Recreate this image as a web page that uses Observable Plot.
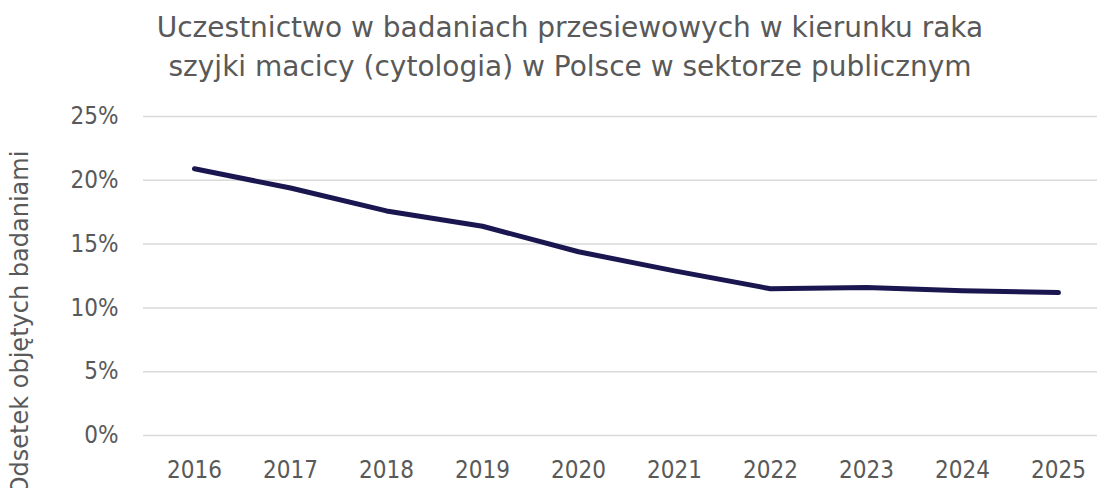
<!DOCTYPE html>
<html>
<head>
<meta charset="utf-8">
<script src="https://cdn.jsdelivr.net/npm/d3@7"></script>
<script src="https://cdn.jsdelivr.net/npm/@observablehq/plot@0.6"></script>
<style>
  html, body { margin: 0; padding: 0; background: #fff; }
  body { width: 1097px; height: 488px; overflow: hidden; font-family: "DejaVu Sans", sans-serif; }
  #title { width: 1140px; height: 100px; box-sizing: border-box; padding-top: 8px; text-align: center; color: #595959; font-size: 28px; line-height: 39px; white-space: nowrap; }
  #chart svg { display: block; }
</style>
</head>
<body>
<div id="title">Uczestnictwo w badaniach przesiewowych w kierunku raka<br>szyjki macicy (cytologia) w Polsce w sektorze publicznym</div>
<div id="chart"></div>
<script>
const years = ["2016","2017","2018","2019","2020","2021","2022","2023","2024","2025"];
const values = [20.9, 19.4, 17.6, 16.4, 14.4, 12.9, 11.5, 11.6, 11.35, 11.2];
const yTicks = [0, 5, 10, 15, 20, 25];
const yTitle = "Odsetek objętych badaniami";

const data = years.map((y, i) => ({year: y, value: values[i]}));

const chart = Plot.plot({
  width: 1097,
  height: 388,
  marginTop: 16,
  marginBottom: 53,
  marginLeft: 143,
  marginRight: 0,
  style: { fontFamily: '"DejaVu Sans Condensed", "DejaVu Sans", sans-serif', fontSize: "24px", color: "#595959", background: "#fff" },
  x: { type: "point", domain: years, range: [190, 1062], padding: 0 },
  y: { domain: [0, 25] },
  marks: [
    Plot.ruleY(yTicks, { stroke: "#d9d9d9", strokeWidth: 1.5, strokeOpacity: 1 }),
    Plot.axisY({ ticks: yTicks, tickSize: 0, tickPadding: 25, tickFormat: d => d + "%", label: null, fontSize: 24, fill: "#595959" }),
    Plot.axisX({ tickSize: 0, tickPadding: 25, label: null, fontSize: 24, fill: "#595959" }),
    Plot.line(data, { x: "year", y: "value", stroke: "#1a1750", strokeWidth: 5, strokeLinecap: "round", strokeLinejoin: "round" }),
    Plot.text([yTitle], { text: d => d, frameAnchor: "left", textAnchor: "middle", rotate: -90, dx: -123, dy: 47, fontSize: 24, fontFamily: '"DejaVu Sans", sans-serif', fill: "#595959" })
  ]
});
document.getElementById("chart").appendChild(chart);
</script>
</body>
</html>
